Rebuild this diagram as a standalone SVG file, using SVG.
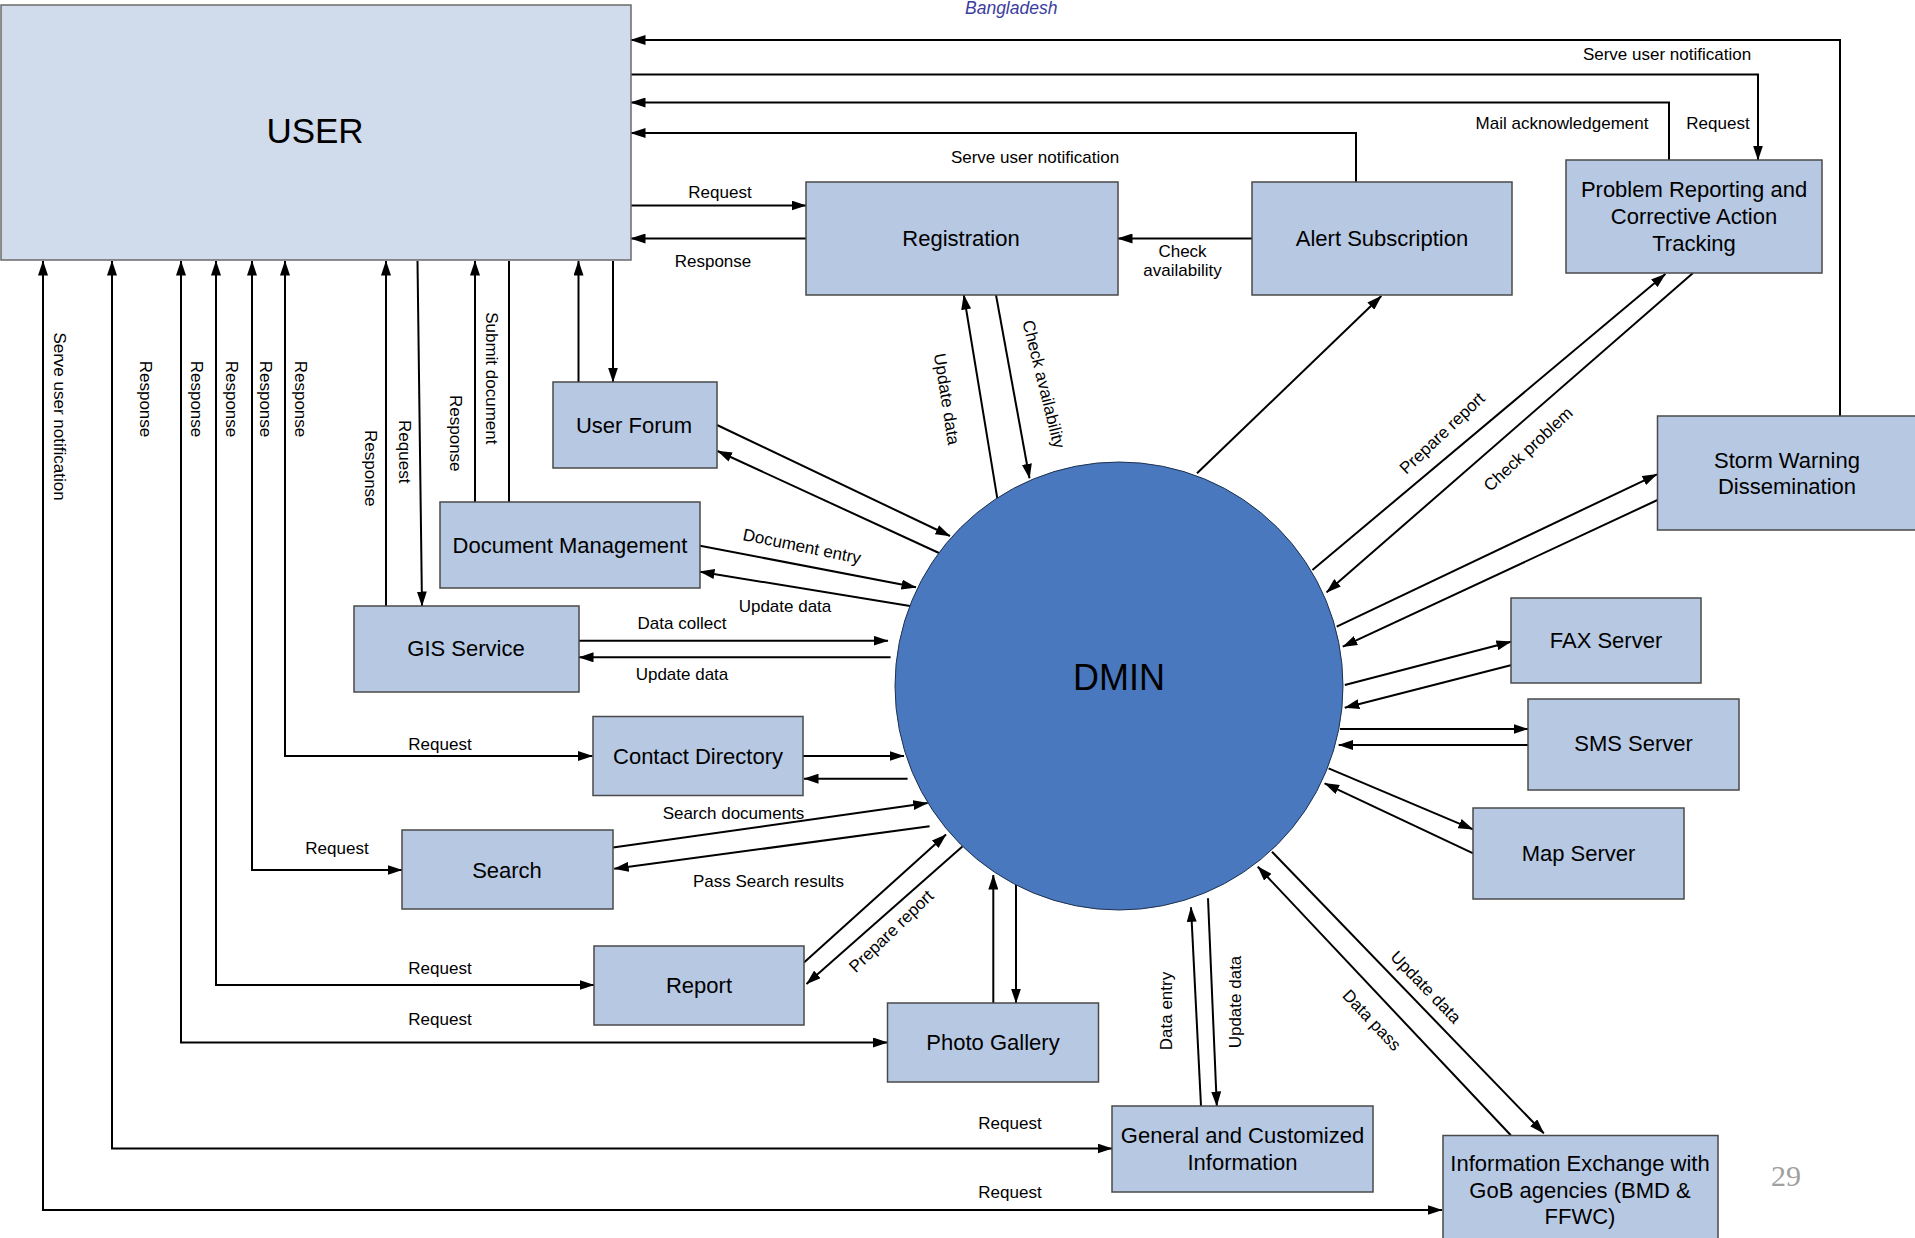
<svg xmlns="http://www.w3.org/2000/svg" width="1915" height="1238" viewBox="0 0 1915 1238">
<defs>
<style>
.n{fill:#b7c8e3;stroke:#4a4a4a;stroke-width:1.5}
.u{fill:#d0dbec;stroke:#6a6a6a;stroke-width:1.5}
.t{font-family:"Liberation Sans",Arial,sans-serif;font-size:22px;fill:#000;text-anchor:middle}
.l{font-family:"Liberation Sans",Arial,sans-serif;font-size:17px;fill:#000;text-anchor:middle}
.c path{fill:none;stroke:#000;stroke-width:2}
</style>
<marker id="a" viewBox="0 0 15 10" markerWidth="15" markerHeight="10" refX="14.5" refY="5" orient="auto" markerUnits="userSpaceOnUse"><path d="M0,0 L15,5 L0,10 z" fill="#000"/></marker>
<marker id="s" viewBox="0 0 15 10" markerWidth="15" markerHeight="10" refX="14.5" refY="5" orient="auto-start-reverse" markerUnits="userSpaceOnUse"><path d="M0,0 L15,5 L0,10 z" fill="#000"/></marker>
</defs>
<rect width="1915" height="1238" fill="#fff"/>
<text x="965" y="14" font-family="Liberation Sans, Arial, sans-serif" font-size="17.5" font-style="italic" fill="#3a3d9e">Bangladesh</text>

<g id="connectors" class="c">
<path d="M1840,416 V40 H631" marker-end="url(#a)"/>
<path d="M631,74.5 H1758 V160" marker-end="url(#a)"/>
<path d="M1669,160 V102.5 H631" marker-end="url(#a)"/>
<path d="M1356,182 V133 H631" marker-end="url(#a)"/>
<path d="M631,205.5 H806" marker-end="url(#a)"/>
<path d="M806,238.5 H631" marker-end="url(#a)"/>
<path d="M1252,238.5 H1118" marker-end="url(#a)"/>
<path d="M997.3,498.3 L963.8,295" marker-end="url(#a)"/>
<path d="M996,295 L1029.5,478.3" marker-end="url(#a)"/>
<path d="M1197,473.3 L1381.3,296" marker-end="url(#a)"/>
<path d="M1312.4,570 L1665.4,274" marker-end="url(#a)"/>
<path d="M1693,273 L1326.6,592.3" marker-end="url(#a)"/>
<path d="M1336.7,626.7 L1657,474.3" marker-end="url(#a)"/>
<path d="M1657.5,500 L1342.8,646.7" marker-end="url(#a)"/>
<path d="M1344.8,685 L1511,641.7" marker-end="url(#a)"/>
<path d="M1511.7,665 L1344.8,707.7" marker-end="url(#a)"/>
<path d="M1340,729 H1528" marker-end="url(#a)"/>
<path d="M1528,745 H1338.7" marker-end="url(#a)"/>
<path d="M1328.6,768.3 L1473,829.3" marker-end="url(#a)"/>
<path d="M1473.2,853.3 L1324.6,783.3" marker-end="url(#a)"/>
<path d="M1510.8,1135.3 L1257.8,866.7" marker-end="url(#a)"/>
<path d="M1272,851.7 L1543.8,1133.3" marker-end="url(#a)"/>
<path d="M1201,1106 L1191,907.3" marker-end="url(#a)"/>
<path d="M1208,898.3 L1216.8,1106" marker-end="url(#a)"/>
<path d="M993.3,1003 V875" marker-end="url(#a)"/>
<path d="M1016,885 V1003" marker-end="url(#a)"/>
<path d="M804,962.5 L946,834.5" marker-end="url(#a)"/>
<path d="M962.4,846.4 L806.5,984" marker-end="url(#a)"/>
<path d="M613,847.6 L927.7,803" marker-end="url(#a)"/>
<path d="M929.6,826.3 L614.2,868.8" marker-end="url(#a)"/>
<path d="M803,756 H904" marker-end="url(#a)"/>
<path d="M907.6,778.7 H804" marker-end="url(#a)"/>
<path d="M578.5,640.7 H888" marker-end="url(#a)"/>
<path d="M890.6,657.3 H579" marker-end="url(#a)"/>
<path d="M700,545.7 L916,587.3" marker-end="url(#a)"/>
<path d="M910,606 L700,571.7" marker-end="url(#a)"/>
<path d="M717,425 L950,536" marker-end="url(#a)"/>
<path d="M939,553 L717.5,451" marker-end="url(#a)"/>
<path d="M578.5,382 V261" marker-end="url(#a)"/>
<path d="M613,261 V382" marker-end="url(#a)"/>
<path d="M475,502 V261" marker-end="url(#a)"/>
<path d="M509,502 V261"/>
<path d="M386,606 V261" marker-end="url(#a)"/>
<path d="M417.5,261 L422,606" marker-end="url(#a)"/>
<path d="M43,261 V1210 H1442" marker-start="url(#s)" marker-end="url(#a)"/>
<path d="M112,261 V1148.5 H1112" marker-start="url(#s)" marker-end="url(#a)"/>
<path d="M181,261 V1042.5 H887.5" marker-start="url(#s)" marker-end="url(#a)"/>
<path d="M216,261 V985 H594" marker-start="url(#s)" marker-end="url(#a)"/>
<path d="M252,261 V870 H402" marker-start="url(#s)" marker-end="url(#a)"/>
<path d="M285,261 V756 H592.5" marker-start="url(#s)" marker-end="url(#a)"/>
</g>

<g id="labels" class="l">
<text x="1667" y="59.5">Serve user notification</text>
<text x="1718" y="128.5">Request</text>
<text x="1562" y="128.5">Mail acknowledgement</text>
<text x="1035" y="163">Serve user notification</text>
<text x="720" y="198">Request</text>
<text x="713" y="266.5">Response</text>
<text x="1182.5" y="256.5">Check</text>
<text x="1182.5" y="276">availability</text>
<text transform="translate(947,399) rotate(81)" y="6">Update data</text>
<text transform="translate(1044,384) rotate(76)" y="6">Check availability</text>
<text transform="translate(1442,433) rotate(-43.5)" y="6">Prepare report</text>
<text transform="translate(1528,449) rotate(-43)" y="6">Check problem</text>
<text transform="translate(802,546) rotate(11.5)" y="6">Document entry</text>
<text x="785" y="612">Update data</text>
<text x="682" y="628.5">Data collect</text>
<text x="682" y="680">Update data</text>
<text x="733.5" y="818.5">Search documents</text>
<text x="768.5" y="887">Pass Search results</text>
<text transform="translate(891,931) rotate(-44)" y="6">Prepare report</text>
<text transform="translate(1166,1011) rotate(-90)" y="6">Data entry</text>
<text transform="translate(1235,1002) rotate(-90)" y="6">Update data</text>
<text transform="translate(1372,1020) rotate(46.7)" y="6">Data pass</text>
<text transform="translate(1426,987) rotate(46)" y="6">Update data</text>
<text x="440" y="749.5">Request</text>
<text x="337" y="853.5">Request</text>
<text x="440" y="973.5">Request</text>
<text x="440" y="1025">Request</text>
<text x="1010" y="1129">Request</text>
<text x="1010" y="1197.5">Request</text>
<text transform="translate(60,416.5) rotate(90)" y="6">Serve user notification</text>
<text transform="translate(146,399) rotate(90)" y="6">Response</text>
<text transform="translate(197.4,399) rotate(90)" y="6">Response</text>
<text transform="translate(231.9,399) rotate(90)" y="6">Response</text>
<text transform="translate(266.3,399) rotate(90)" y="6">Response</text>
<text transform="translate(300.7,399) rotate(90)" y="6">Response</text>
<text transform="translate(371,468.3) rotate(90)" y="6">Response</text>
<text transform="translate(405,451.7) rotate(90)" y="6">Request</text>
<text transform="translate(456,433.3) rotate(90)" y="6">Response</text>
<text transform="translate(492.2,378.3) rotate(90)" y="6">Submit document</text>
</g>

<g id="user"><rect class="u" x="1" y="5" width="630" height="255"/><text class="t" x="315" y="143" style="font-size:35px">USER</text></g>
<g id="registration"><rect class="n" x="806" y="182" width="312" height="113"/><text class="t" x="961" y="246">Registration</text></g>
<g id="alert-subscription"><rect class="n" x="1252" y="182" width="260" height="113"/><text class="t" x="1382" y="246">Alert Subscription</text></g>
<g id="problem-reporting"><rect class="n" x="1566" y="160" width="256" height="113"/><text class="t" x="1694" y="197">Problem Reporting and</text><text class="t" x="1694" y="224">Corrective Action</text><text class="t" x="1694" y="251">Tracking</text></g>
<g id="storm-warning"><rect class="n" x="1657.5" y="416" width="259" height="114"/><text class="t" x="1787" y="468">Storm Warning</text><text class="t" x="1787" y="494">Dissemination</text></g>
<g id="user-forum"><rect class="n" x="553" y="382" width="164" height="86"/><text class="t" x="634" y="433">User Forum</text></g>
<g id="document-management"><rect class="n" x="440" y="502" width="260" height="86"/><text class="t" x="570" y="553">Document Management</text></g>
<g id="gis-service"><rect class="n" x="354" y="606" width="225" height="86"/><text class="t" x="466" y="656">GIS Service</text></g>
<g id="contact-directory"><rect class="n" x="593" y="716.5" width="210" height="79"/><text class="t" x="698" y="764">Contact Directory</text></g>
<g id="search"><rect class="n" x="402" y="830" width="211" height="79"/><text class="t" x="507" y="878">Search</text></g>
<g id="report"><rect class="n" x="594" y="946" width="210" height="79"/><text class="t" x="699" y="993">Report</text></g>
<g id="photo-gallery"><rect class="n" x="887.5" y="1003" width="211" height="79"/><text class="t" x="993" y="1050">Photo Gallery</text></g>
<g id="general-info"><rect class="n" x="1112" y="1106" width="261" height="86"/><text class="t" x="1242.5" y="1143">General and Customized</text><text class="t" x="1242.5" y="1169.5">Information</text></g>
<g id="info-exchange"><rect class="n" x="1443" y="1135.5" width="275" height="110"/><text class="t" x="1580" y="1171">Information Exchange with</text><text class="t" x="1580" y="1198">GoB agencies (BMD &amp;</text><text class="t" x="1580" y="1224">FFWC)</text></g>
<g id="fax-server"><rect class="n" x="1511" y="598" width="190" height="85"/><text class="t" x="1606" y="648">FAX Server</text></g>
<g id="sms-server"><rect class="n" x="1528" y="699" width="211" height="91"/><text class="t" x="1633.5" y="751">SMS Server</text></g>
<g id="map-server"><rect class="n" x="1473" y="808" width="211" height="91"/><text class="t" x="1578.5" y="861">Map Server</text></g>
<g id="dmin"><circle cx="1119" cy="686" r="224" fill="#4a78be" stroke="#1e3250" stroke-width="1"/><text class="t" x="1119" y="690" style="font-size:36px">DMIN</text></g>
<text x="1786" y="1186" font-family="Liberation Serif, serif" font-size="30" fill="#a0a0a0" text-anchor="middle">29</text>
</svg>
